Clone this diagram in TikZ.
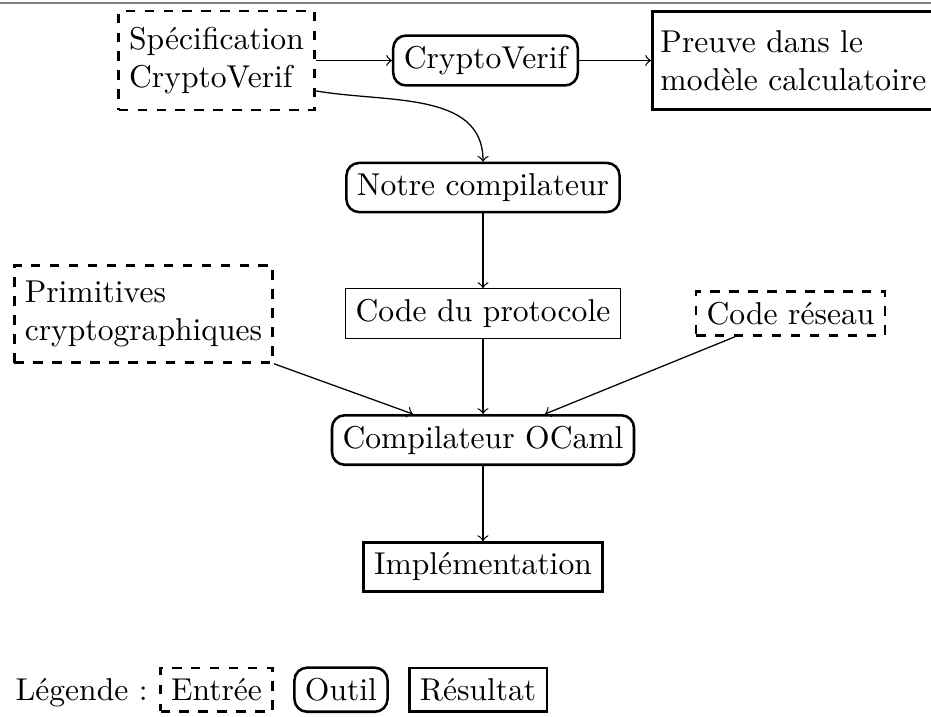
\documentclass[tikz,border=0pt]{standalone}
\begin{document}
\begin{tikzpicture}[x=0.3165pt,y=-0.3165pt,
  entree/.style={draw, thick, dashed, align=left},
  outil/.style={draw, thick, rounded corners=4pt},
  resultat/.style={draw, thick},
  plainbox/.style={draw, thin},
  arr/.style={->, thin}]
\useasboundingbox (0,0) rectangle (931,716);
\draw[gray, line width=0.6pt] (0,3) -- (931,3);

\node[entree, minimum height=31.3pt] (spec) at (216.5,60.5) {Spécification\\CryptoVerif};
\node[outil] (cv) at (485.5,60.5) {CryptoVerif};
\node[resultat, anchor=west, align=left, inner xsep=2.6pt, minimum height=31pt] (preuve) at (651,60.5) {Preuve dans le\\modèle calculatoire};
\node[outil] (notre) at (483,187.5) {Notre compilateur};
\node[plainbox] (code) at (483,313.5) {Code du protocole};
\node[entree, minimum height=30.7pt] (prim) at (143.5,314) {Primitives\\cryptographiques};
\node[entree] (reseau) at (790.5,313.5) {Code réseau};
\node[outil] (ocaml) at (483,440) {Compilateur OCaml};
\node[resultat] (impl) at (483,567) {Implémentation};

\node[anchor=base west, inner sep=0pt] (leg) at (15,700.5) {Légende :};
\node[entree, anchor=base] (lentree) at (216.5,700.5) {Entrée};
\node[outil, anchor=base] (loutil) at (341,700.5) {Outil};
\node[resultat, anchor=base] (lres) at (478,700.5) {Résultat};

\draw[arr] (spec.east) -- (cv.west);
\draw[arr] (cv.east) -- (preuve.west);
\draw[arr] (spec.-17) to[out=-10,in=90] (notre.north);
\draw[arr] (notre.south) -- (code.north);
\draw[arr] (code.south) -- (ocaml.north);
\draw[arr] (prim.south east) -- ([xshift=-22.2pt]ocaml.north);
\draw[arr] ([xshift=-17.6pt]reseau.south) -- ([xshift=19.6pt]ocaml.north);
\draw[arr] (ocaml.south) -- (impl.north);
\end{tikzpicture}
\end{document}
